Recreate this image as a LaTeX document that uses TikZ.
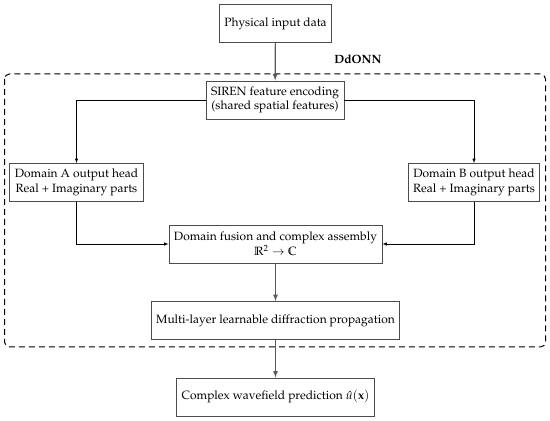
\documentclass[tikz,border=0pt]{standalone}
\usepackage[T1]{fontenc}
\usepackage{mathpazo}
\usepackage{amsmath, amssymb}
\usepackage{tikz}
\usetikzlibrary{arrows}

\begin{document}
\begin{tikzpicture}[block/.style={draw=black!70, line width=0.9pt, fill=white, align=center, minimum height=38pt, inner xsep=5pt, inner ysep=3pt},
				mainarrow/.style={->, draw=black!65, line width=1.2pt},
				sidearrow/.style={->, draw=black, line width=0.5pt},
				x=1pt, y=1pt,
				>=latex,   %Voreinstellung für Pfeilspitzen
				font=\fontsize{12}{14.6}\selectfont]
				%Bildbereich festlegen
				\useasboundingbox (0,0) rectangle (550,421);
				% gestrichelter Rahmen DdONN
				\draw[dashed, line width=1pt, dash pattern=on 6pt off 4pt, rounded corners=5pt] (4.5,347) rectangle (545.5,74);
				\node[font=\fontsize{12}{14.6}\selectfont\bfseries] (ddonn) at (358,362) {DdONN};
				% Bloecke zeichnen
				\node[block] (phys) at (275.5,397.5) {Physical input data};
				\node[block] (siren) at (275,321) {SIREN feature encoding\\(shared spatial features)};
				\node[block] (doma) at (76.5,238.5) {Domain A output head\\Real + Imaginary parts};
				\node[block] (domb) at (474,238.5) {Domain B output head\\Real + Imaginary parts};
				\node[block] (fusion) at (275.5,177) {Domain fusion and complex assembly\\$\mathbb{R}^2 \to \mathbb{C}$};
				\node[block] (multi) at (275.5,100.5) {Multi-layer learnable diffraction propagation};
				\node[block] (pred) at (275.5,24) {Complex wavefield prediction $\hat{u}(\mathbf{x})$};
				% Pfeile zeichnen
				\draw[mainarrow] (phys) -- (siren);
				\draw[sidearrow] (siren.west) -| (doma.north);
				\draw[sidearrow] (siren.east) -| (domb.north);
				\draw[sidearrow] (doma.south) |- (fusion.west);
				\draw[sidearrow] (domb.south) |- (fusion.east);
				\draw[mainarrow] (fusion) -- (multi);
				\draw[mainarrow] (multi) -- (pred);
			\end{tikzpicture}
\end{document}
